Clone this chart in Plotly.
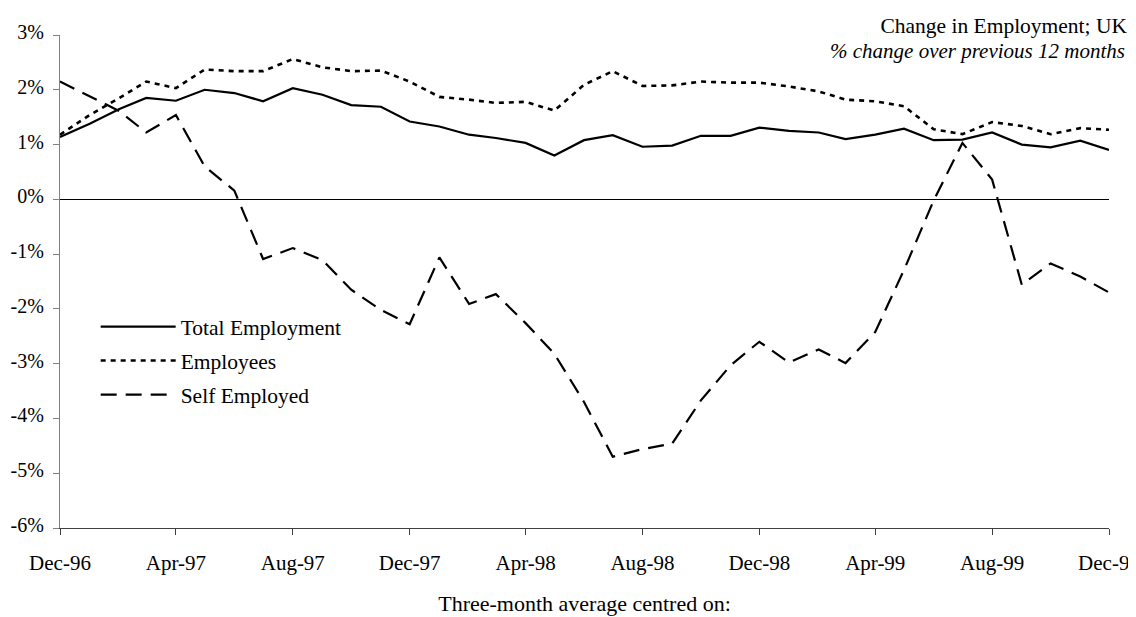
import pandas as pd
import plotly.graph_objects as go

months = pd.date_range("1996-12-01", "1999-12-01", freq="MS")

total_employment = [1.14, 1.38, 1.65, 1.85, 1.80, 2.00, 1.94, 1.79, 2.03, 1.91,
                    1.72, 1.69, 1.42, 1.33, 1.18, 1.12, 1.03, 0.80, 1.08, 1.17,
                    0.96, 0.98, 1.16, 1.16, 1.31, 1.25, 1.22, 1.10, 1.18, 1.29,
                    1.08, 1.09, 1.22, 1.00, 0.95, 1.07, 0.90]
employees = [1.18, 1.54, 1.85, 2.15, 2.03, 2.37, 2.34, 2.34, 2.56, 2.41,
             2.34, 2.35, 2.15, 1.87, 1.82, 1.76, 1.78, 1.62, 2.09, 2.34,
             2.07, 2.08, 2.15, 2.13, 2.13, 2.06, 1.97, 1.82, 1.79, 1.70,
             1.28, 1.19, 1.41, 1.34, 1.19, 1.30, 1.27]
self_employed = [2.15, 1.88, 1.61, 1.22, 1.54, 0.60, 0.16, -1.09, -0.89, -1.11,
                 -1.65, -2.02, -2.28, -1.06, -1.91, -1.73, -2.26, -2.82, -3.70, -4.70,
                 -4.56, -4.46, -3.67, -3.03, -2.60, -2.98, -2.74, -2.99, -2.42, -1.29,
                 -0.02, 1.03, 0.36, -1.56, -1.17, -1.41, -1.70]

series_names = ["Total Employment", "Employees", "Self Employed"]
y_tick_vals = [3, 2, 1, 0, -1, -2, -3, -4, -5, -6]
y_tick_text = ["3%", "2%", "1%", "0%", "-1%", "-2%", "-3%", "-4%", "-5%", "-6%"]

FONT = "Liberation Serif, Times New Roman, serif"

fig = go.Figure()
styles = [
    dict(color="black", width=2.2, dash="solid"),
    dict(color="black", width=2.6, dash="5px,5px"),
    dict(color="black", width=2.2, dash="16px,9px"),
]
for name, vals, st in zip(series_names, [total_employment, employees, self_employed], styles):
    fig.add_trace(go.Scatter(x=months, y=vals, mode="lines", name=name, line=st,
                             legendgroup=name))

# page body has an 8px default margin; the figure is sized to fill the rest
W, H = 1128, 609
fig.update_layout(
    width=W, height=H,
    margin=dict(l=52, r=27, t=27, b=89),
    paper_bgcolor="white", plot_bgcolor="white",
    font=dict(family=FONT, size=20, color="black"),
    showlegend=True,
    legend=dict(x=0.034, y=0.45, xanchor="left", yanchor="top",
                font=dict(family=FONT, size=21.5), bgcolor="rgba(0,0,0,0)",
                itemwidth=75, tracegroupgap=3),
    title=dict(text="Change in Employment; UK", x=1119 / W, xanchor="right",
               y=1 - 17 / H, yanchor="middle", font=dict(family=FONT, size=21.5)),
    annotations=[dict(text="<i>% change over previous 12 months</i>", xref="paper",
                      yref="paper", x=(1127 - 60) / 1049, y=(528 - 51) / 493,
                      xanchor="right", yanchor="middle", showarrow=False,
                      font=dict(family=FONT, size=21))],
)

fig.update_xaxes(
    range=[months[0], months[-1]], tickformat="%b-%y", dtick="M4", tick0="1996-12-01",
    showgrid=False, showline=True, linecolor="#404040", linewidth=1.2,
    ticks="outside", ticklen=6, tickcolor="#404040", ticklabelstandoff=10,
    ticklabeloverflow="allow",
    tickfont=dict(family=FONT, size=21),
    title=dict(text="Three-month average centred on:", standoff=21,
               font=dict(family=FONT, size=22)),
    automargin=False,
)
fig.update_yaxes(
    range=[-6, 3], tickvals=y_tick_vals, ticktext=y_tick_text,
    showgrid=False, showline=True, linecolor="#808080", linewidth=1.2,
    ticks="outside", ticklen=6, tickcolor="#808080", ticklabelstandoff=5,
    ticklabelshift=-3,
    zeroline=True, zerolinecolor="black", zerolinewidth=1.2,
    tickfont=dict(family=FONT, size=20), automargin=False,
)

fig.write_html("out.html")
